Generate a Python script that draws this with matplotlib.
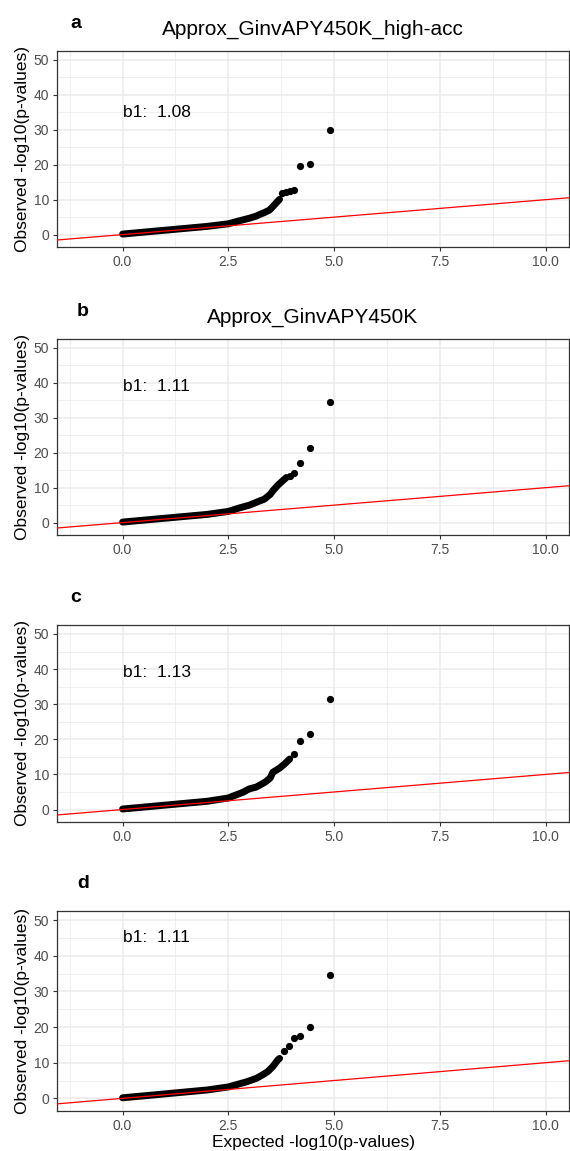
import numpy as np
import matplotlib
matplotlib.use('Agg')
import matplotlib.pyplot as plt
from matplotlib.ticker import MultipleLocator

plt.rcParams['font.family'] = ['Liberation Sans', 'DejaVu Sans']

# panel titles / labels / b1 values
panel_tags = ['a', 'b', 'c', 'd']
panel_titles = ['Approx_GinvAPY450K_high-acc', 'Approx_GinvAPY450K', '', '']
b1_values = ['1.08', '1.11', '1.13', '1.11']
b1_ypos = [35, 39, 39, 45]

# dense part of each QQ curve (expected, observed)
a_x_body = [0, 0.5, 1.0, 1.5, 2.0, 2.5, 2.84, 3.0, 3.16, 3.25, 3.35, 3.47, 3.55, 3.67, 3.71]
a_y_body = [0.15, 0.7, 1.25, 1.8, 2.35, 3.1, 4.2, 4.7, 5.3, 5.8, 6.3, 7.0, 8.0, 9.6, 10.1]
a_x_tail = [3.77, 3.87, 3.96, 4.06, 4.20, 4.42, 4.89]
a_y_tail = [12.0, 12.3, 12.5, 12.9, 19.6, 20.3, 29.8]

b_x_body = [0, 0.5, 1.0, 1.5, 2.0, 2.5, 2.76, 3.0, 3.24, 3.35, 3.49, 3.55, 3.67, 3.75, 3.87]
b_y_body = [0.15, 0.7, 1.25, 1.8, 2.35, 3.2, 4.2, 5.0, 6.2, 6.7, 8.1, 9.1, 10.7, 11.6, 12.9]
b_x_tail = [3.95, 4.05, 4.20, 4.42, 4.905]
b_y_tail = [13.3, 14.3, 17.2, 21.3, 34.4]

c_x_body = [0, 0.5, 1.0, 1.5, 2.0, 2.5, 2.84, 3.0, 3.16, 3.31, 3.39, 3.49, 3.55, 3.71, 3.83, 3.95]
c_y_body = [0.15, 0.7, 1.25, 1.8, 2.35, 3.3, 4.9, 5.9, 6.4, 7.4, 8.0, 9.0, 10.6, 11.8, 13.0, 14.4]
c_x_tail = [4.05, 4.20, 4.42, 4.905]
c_y_tail = [15.7, 19.6, 21.4, 31.5]

d_x_body = [0, 0.5, 1.0, 1.5, 2.0, 2.5, 2.92, 3.16, 3.31, 3.43, 3.55, 3.67, 3.71]
d_y_body = [0.15, 0.7, 1.25, 1.8, 2.35, 3.2, 4.6, 5.6, 6.6, 7.5, 8.9, 10.8, 11.2]
d_x_tail = [3.81, 3.93, 4.05, 4.20, 4.42, 4.905]
d_y_tail = [13.4, 14.7, 16.9, 17.5, 20.0, 34.6]

bodies = [(a_x_body, a_y_body), (b_x_body, b_y_body), (c_x_body, c_y_body), (d_x_body, d_y_body)]
tails = [(a_x_tail, a_y_tail), (b_x_tail, b_y_tail), (c_x_tail, c_y_tail), (d_x_tail, d_y_tail)]

W, H = 570, 1151
fig = plt.figure(figsize=(W / 100, H / 100), dpi=100)

left, right = 57, 569
# (top, bottom) of each panel in pixels
panel_px = [(51, 247), (339, 535), (625, 822), (911, 1111)]
tag_xy = [(76, 23), (83, 311), (76, 597), (83, 883)]

for i in range(4):
    top, bot = panel_px[i]
    ax = fig.add_axes([left / W, 1 - bot / H, (right - left) / W, (bot - top) / H])
    ax.set_xlim(-1.55, 10.55)
    ax.set_ylim(-3.55, 52.55)

    ax.xaxis.set_minor_locator(MultipleLocator(1.25))
    ax.yaxis.set_major_locator(MultipleLocator(10))
    ax.yaxis.set_minor_locator(MultipleLocator(5))
    ax.set_xticks([0, 2.5, 5, 7.5, 10])
    ax.set_xticklabels(['0.0', '2.5', '5.0', '7.5', '10.0'])
    ax.grid(True, which='major', color='#EBEBEB', linewidth=1.1)
    ax.grid(True, which='minor', color='#EBEBEB', linewidth=0.55)
    ax.set_axisbelow(True)
    ax.tick_params(which='minor', length=0)
    ax.tick_params(which='major', length=3, width=0.8, color='#333333',
                   labelsize=10, labelcolor='#4D4D4D', pad=2.5)
    for s in ax.spines.values():
        s.set_color('#333333')
        s.set_linewidth(0.9)

    bx, by = bodies[i]
    tx, ty = tails[i]
    ax.plot(bx, by, color='black', linewidth=5.0, solid_capstyle='round', zorder=2)
    ax.scatter(tx, ty, s=27, color='black', linewidths=0, zorder=2)

    # y = x reference line
    ax.axline((0, 0), slope=1, color='red', linewidth=0.9, zorder=3)

    ax.text(0.0, b1_ypos[i], 'b1:  ' + b1_values[i], fontsize=12.5, ha='left', va='center', color='black')

    ax.set_ylabel('Observed -log10(p-values)', fontsize=12.5, labelpad=3)
    if panel_titles[i]:
        fig.text((left + right) / 2 / W, 1 - (top - 22) / H, panel_titles[i],
                 fontsize=15, ha='center', va='center')
    tx0, ty0 = tag_xy[i]
    fig.text(tx0 / W, 1 - ty0 / H, panel_tags[i], fontsize=14, fontweight='bold',
             ha='center', va='center')

fig.text((left + right) / 2 / W, 1 - 1142 / H, 'Expected -log10(p-values)',
         fontsize=12.5, ha='center', va='center')

plt.savefig('out.png', dpi=100)
